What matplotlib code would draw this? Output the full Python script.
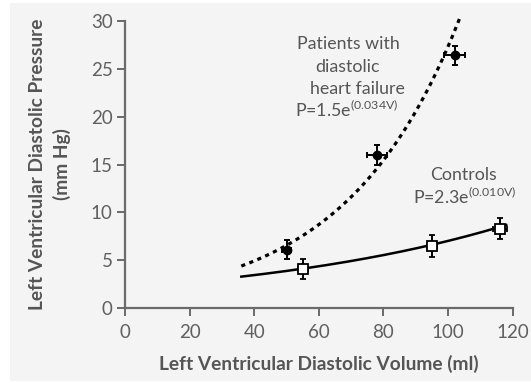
import numpy as np
import matplotlib
matplotlib.use("Agg")
import matplotlib.pyplot as plt
from matplotlib.patches import Rectangle


# ==========================================================
# Data
# ==========================================================

# Patients with diastolic heart failure
hf_volume = [50, 78, 102]
hf_pressure = [6.1, 16.0, 26.4]
hf_volume_err = [1.5, 3.0, 3.3]
hf_pressure_err = [1.0, 1.05, 1.0]

# Controls
ctl_volume = [55, 95, 116]
ctl_pressure = [4.1, 6.5, 8.3]
ctl_volume_err = [1.5, 1.5, 2.2]
ctl_pressure_err = [1.05, 1.1, 1.1]

# Fitted exponential curves P = a * exp(b * V), as drawn
hf_fit = (1.58, 0.0285)
hf_fit_range = (36, 103.6)
ctl_fit = (2.16, 0.0118)
ctl_fit_range = (36, 118)

x_ticks = [0, 20, 40, 60, 80, 100, 120]
y_ticks = [0, 5, 10, 15, 20, 25, 30]

GREY = "#555555"
SPINE = "#6a6a6a"
FONT = ["Lato", "DejaVu Sans"]


def fit_curve(params, vrange):
    a, b = params
    v = np.linspace(vrange[0], vrange[1], 200)
    return v, a * np.exp(b * v)


# ==========================================================
# Figure
# ==========================================================

plt.rcParams["font.family"] = FONT

fig = plt.figure(figsize=(5.31, 3.83), dpi=100, facecolor="white")
fig.patches.append(
    Rectangle((10 / 531, 2 / 383), 1, 378 / 383,
              transform=fig.transFigure, facecolor="#f4f4f4",
              edgecolor="none", zorder=-10)
)

ax = fig.add_axes([125 / 531, 74.7 / 383, 387.7 / 531, 287.6 / 383])
ax.set_facecolor("none")

# fitted curves
v, p = fit_curve(hf_fit, hf_fit_range)
ax.plot(v, p, color="black", lw=2.3, linestyle=(0, (1.3, 1.4)),
        dash_capstyle="butt", clip_on=False, zorder=2)

v, p = fit_curve(ctl_fit, ctl_fit_range)
ax.plot(v, p, color="black", lw=1.8, clip_on=False, zorder=2)

# measured points
ax.errorbar(hf_volume, hf_pressure,
            xerr=hf_volume_err, yerr=hf_pressure_err,
            fmt="o", ms=6, color="black", ecolor="black",
            elinewidth=1.4, capsize=2, capthick=1.4,
            clip_on=False, zorder=3)

ax.errorbar(ctl_volume, ctl_pressure,
            xerr=ctl_volume_err, yerr=ctl_pressure_err,
            fmt="s", ms=7, mfc="white", mec="black", mew=1.3,
            ecolor="black", elinewidth=1.4, capsize=2, capthick=1.4,
            clip_on=False, zorder=3)

# annotations
txt = dict(color=GREY, fontsize=12.8, va="center", ha="left")
ax.text(53.3, 27.6, "Patients with", **txt)
ax.text(58.8, 25.2, "diastolic", **txt)
ax.text(57.2, 22.9, "heart failure", **txt)
ax.text(52.6, 20.7, r"P=1.5e$^{\mathregular{(0.034V)}}$", **txt)

ax.text(94.4, 13.9, "Controls", **txt)
ax.text(89.1, 11.7, r"P=2.3e$^{\mathregular{(0.010V)}}$", **txt)

# axes
ax.set_xlim(0, 120)
ax.set_ylim(0, 30)
ax.set_xticks(x_ticks)
ax.set_yticks(y_ticks)

for side in ("top", "right"):
    ax.spines[side].set_visible(False)
for side in ("left", "bottom"):
    ax.spines[side].set_color(SPINE)
    ax.spines[side].set_linewidth(1.6)

ax.tick_params(direction="out", length=6, width=1.4, color=SPINE,
               labelcolor="#606060", labelsize=13.5, pad=3)
ax.tick_params(axis="x", pad=5)

ax.set_xlabel("Left Ventricular Diastolic Volume (ml)", fontsize=13.8,
              fontweight="bold", color=GREY, labelpad=10)
ax.set_ylabel("Left Ventricular Diastolic Pressure\n(mm Hg)", fontsize=13.8,
              fontweight="bold", color=GREY, labelpad=14, linespacing=1.45)

fig.savefig("out.png", dpi=100, facecolor=fig.get_facecolor())
